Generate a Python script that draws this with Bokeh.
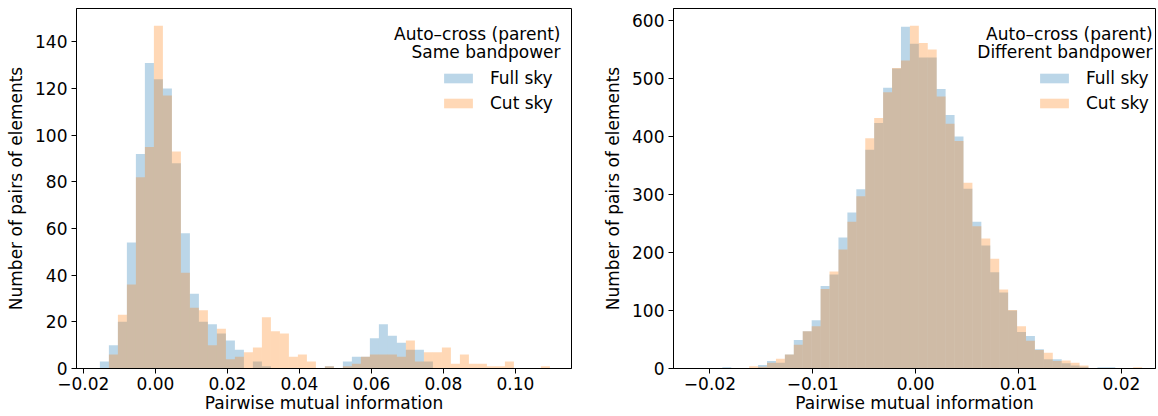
import numpy as np
from bokeh.plotting import figure
from bokeh.layouts import row
from bokeh.models import (Range1d, FixedTicker, CustomJSTickFormatter, Legend,
                          LegendItem, Label, ColumnDataSource)
from bokeh.embed import file_html
from bokeh.resources import INLINE

# ---- data -----------------------------------------------------------------
# Auto-cross (parent), same bandpower: 50 common bins
same_bin_lo = -0.0154
same_bin_width = 0.0025
full_sky_same = [3, 10, 20, 54, 92, 131, 124, 120, 88, 58,
                 32, 20, 19, 15, 12, 8, 0, 3, 1, 0,
                 0, 0, 0, 0, 0, 1, 0, 3, 5, 5,
                 13, 19, 14, 11, 8, 8, 3, 0, 0, 0,
                 0, 0, 0, 0, 0, 0, 0, 0, 0, 0]
cut_sky_same = [0, 6, 23, 36, 82, 95, 147, 117, 93, 41,
                26, 25, 10, 17, 4, 5, 7, 9, 22, 16,
                15, 5, 6, 3, 0, 1, 0, 1, 2, 5,
                6, 6, 6, 5, 12, 3, 7, 7, 9, 2,
                6, 2, 2, 1, 1, 3, 0, 0, 0, 1]

# Auto-cross (parent), different bandpower: 47 common bins
diff_bin_lo = -0.01879
diff_bin_width = 0.000868
full_sky_diff = [2, 0, 0, 1, 6, 13, 10, 24, 49, 64,
                 83, 142, 162, 226, 269, 309, 377, 423, 484, 517,
                 589, 560, 536, 536, 482, 437, 400, 310, 253, 212,
                 166, 131, 100, 63, 56, 33, 16, 16, 9, 5,
                 3, 0, 2, 2, 0, 0, 0]
cut_sky_diff = [0, 0, 0, 4, 3, 10, 17, 24, 41, 64,
                73, 137, 167, 205, 253, 297, 397, 432, 476, 518,
                531, 591, 561, 550, 469, 422, 392, 320, 245, 224,
                189, 136, 101, 73, 48, 32, 27, 13, 14, 10,
                5, 1, 0, 0, 0, 0, 2]

same_xticks = [-0.02, 0.0, 0.02, 0.04, 0.06, 0.08, 0.10]
same_yticks = [0, 20, 40, 60, 80, 100, 120, 140]
diff_xticks = [-0.02, -0.01, 0.0, 0.01, 0.02]
diff_yticks = [0, 100, 200, 300, 400, 500, 600]

same_title = ["Auto\u2013cross (parent)", "Same bandpower"]
diff_title = ["Auto\u2013cross (parent)", "Different bandpower"]
series_labels = ["Full sky", "Cut sky"]

# ---- style ----------------------------------------------------------------
FULL_COLOR = "#1f77b4"
CUT_COLOR = "#ff7f0e"
FONT = "DejaVu Sans"
FS = "17px"
HEIGHT = 416
BORDER_TOP = 8
BORDER_BOTTOM = 48
FRAME_H = HEIGHT - BORDER_TOP - BORDER_BOTTOM

minus_fmt = CustomJSTickFormatter(code="""
    const s = Math.abs(tick).toFixed(2);
    return (tick < -1e-12 ? "\\u2212" : "") + s;
""")


def make_panel(full, cut, lo, bw, xlim, xticks, yticks, title_lines,
               width, border_left, border_right, title_inset, legend_left):
    edges = lo + bw * np.arange(len(full) + 1)
    ytop = max(max(full), max(cut)) * 1.05
    src = ColumnDataSource(dict(left=edges[:-1], right=edges[1:],
                                full=full, cut=cut))

    p = figure(width=width, height=HEIGHT, output_backend="svg",
               toolbar_location=None,
               x_range=Range1d(*xlim), y_range=Range1d(0, ytop),
               min_border_left=border_left, min_border_right=border_right,
               min_border_top=BORDER_TOP, min_border_bottom=BORDER_BOTTOM)

    r_full = p.quad(left="left", right="right", bottom=0, top="full",
                    source=src, fill_color=FULL_COLOR, fill_alpha=0.3,
                    line_color=None)
    r_cut = p.quad(left="left", right="right", bottom=0, top="cut",
                   source=src, fill_color=CUT_COLOR, fill_alpha=0.3,
                   line_color=None)

    p.grid.visible = False
    p.outline_line_color = "black"
    p.outline_line_alpha = 1
    p.outline_line_width = 1
    p.background_fill_color = "white"
    p.border_fill_color = "white"

    for ax in (p.xaxis[0], p.yaxis[0]):
        ax.axis_line_color = "black"
        ax.major_tick_line_color = "black"
        ax.major_tick_out = 5
        ax.major_tick_in = 0
        ax.minor_tick_line_color = None
        ax.major_label_text_font = FONT
        ax.major_label_text_font_size = FS
        ax.major_label_text_color = "black"
        ax.axis_label_text_font = FONT
        ax.axis_label_text_font_size = FS
        ax.axis_label_text_font_style = "normal"
        ax.axis_label_text_color = "black"
        ax.major_label_standoff = 4

    p.xaxis.ticker = FixedTicker(ticks=xticks)
    p.xaxis.formatter = minus_fmt
    p.xaxis.axis_label = "Pairwise mutual information"
    p.xaxis.axis_label_standoff = 0
    p.xaxis.major_label_standoff = 3

    p.yaxis.ticker = FixedTicker(ticks=yticks)
    p.yaxis.axis_label = "Number of pairs of elements"
    p.yaxis.axis_label_standoff = 6

    legend = Legend(items=[LegendItem(label=series_labels[0], renderers=[r_full]),
                           LegendItem(label=series_labels[1], renderers=[r_cut])],
                    location=(legend_left, 255),
                    border_line_color=None, background_fill_alpha=0,
                    glyph_width=36, glyph_height=12, label_standoff=14,
                    label_height=20, spacing=5, padding=0, margin=0,
                    label_text_font=FONT, label_text_font_size=FS,
                    label_text_color="black")
    p.add_layout(legend)

    # legend heading, right-aligned in the upper right corner
    frame_w = width - border_left - border_right
    xpx = frame_w / (xlim[1] - xlim[0])
    ypx = FRAME_H / ytop
    for line, base in zip(title_lines, (25.2, 43.8)):
        p.add_layout(Label(x=xlim[1] - title_inset / xpx,
                           y=ytop - base / ypx,
                           text=line, text_align="right",
                           text_baseline="alphabetic",
                           text_font=FONT, text_font_size=FS,
                           text_color="black"))
    return p


p1 = make_panel(full_sky_same, cut_sky_same, same_bin_lo, same_bin_width,
                (-0.0219, 0.1156), same_xticks, same_yticks, same_title,
                width=600, border_left=76, border_right=29,
                title_inset=11, legend_left=364)
p2 = make_panel(full_sky_diff, cut_sky_diff, diff_bin_lo, diff_bin_width,
                (-0.02354, 0.02331), diff_xticks, diff_yticks, diff_title,
                width=558, border_left=69, border_right=3,
                title_inset=3, legend_left=363)

layout = row(p1, p2)
open("out.html", "w").write(file_html(layout, INLINE))
